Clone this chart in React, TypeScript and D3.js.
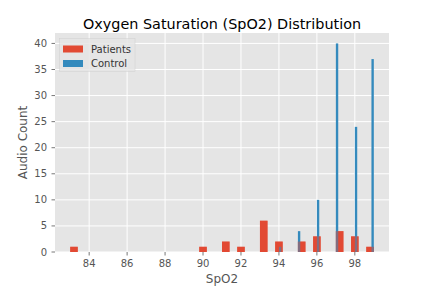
import React from "react";
import * as d3 from "d3";

// histogram source values (SpO2 reading -> number of recordings)
const patientSpo2 = [83, 90, 91, 92, 93, 94, 95, 96, 97, 98, 99];
const patientCounts = [1, 1, 2, 1, 6, 2, 2, 3, 4, 3, 1];
const controlSpo2 = [94, 95, 96, 97, 98, 99];
const controlCounts = [1, 4, 10, 40, 24, 37];
const xTicks = [84, 86, 88, 90, 92, 94, 96, 98];
const yTicks = [0, 5, 10, 15, 20, 25, 30, 35, 40];
const binCount = 40;

const W = 432;
const H = 288;
const M = { left: 55, right: 389, top: 33, bottom: 252 };
const FONT = "'DejaVu Sans', sans-serif";

interface Bar {
  x0: number;
  x1: number;
  count: number;
}

// matplotlib-like binning: n equal bins over [min, max] of the series
function toBins(values: number[], counts: number[], n: number): Bar[] {
  const lo = d3.min(values) as number;
  const hi = d3.max(values) as number;
  const w = (hi - lo) / n;
  return values.map((v, i) => {
    const k = Math.min(Math.floor((v - lo) / w + 1e-9), n - 1);
    return { x0: lo + k * w, x1: lo + (k + 1) * w, count: counts[i] };
  });
}

export default function App() {
  const patients = toBins(patientSpo2, patientCounts, binCount);
  const control = toBins(controlSpo2, controlCounts, binCount);

  const allMin = Math.min(d3.min(patientSpo2) as number, d3.min(controlSpo2) as number);
  const allMax = Math.max(d3.max(patientSpo2) as number, d3.max(controlSpo2) as number);
  const pad = (allMax - allMin) * 0.05;
  const x = d3.scaleLinear().domain([allMin - pad, allMax + pad]).range([M.left, M.right]);
  const yMax = (d3.max([...patientCounts, ...controlCounts]) as number) * 1.05;
  const y = d3.scaleLinear().domain([0, yMax]).range([M.bottom, M.top]);

  const bars = (data: Bar[], color: string, opacity = 1) =>
    data.map((d, i) => (
      <rect
        key={i}
        x={x(d.x0)}
        width={x(d.x1) - x(d.x0)}
        y={y(d.count)}
        height={y(0) - y(d.count)}
        fill={color}
        opacity={opacity}
      />
    ));

  return (
    <svg
      width={W}
      height={H}
      style={{ position: "absolute", left: 0, top: 0, background: "#fff" }}
      fontFamily={FONT}
    >
      <rect x={M.left} y={M.top} width={M.right - M.left} height={M.bottom - M.top} fill="#E5E5E5" />
      {xTicks.map((t) => (
        <line key={"gx" + t} x1={x(t)} x2={x(t)} y1={M.top} y2={M.bottom} stroke="#fff" strokeWidth={1} />
      ))}
      {yTicks.map((t) => (
        <line key={"gy" + t} x1={M.left} x2={M.right} y1={y(t)} y2={y(t)} stroke="#fff" strokeWidth={1} />
      ))}

      {bars(patients, "#E24A33")}
      {bars(control, "#348ABD")}
      {bars(patients, "#E24A33", 0.45)}

      {xTicks.map((t) => (
        <g key={"tx" + t} transform={`translate(${x(t)},${M.bottom})`}>
          <line y1={0} y2={3.5} stroke="#555" strokeWidth={0.8} />
          <text y={15} textAnchor="middle" fontSize={10} fill="#555">
            {t}
          </text>
        </g>
      ))}
      {yTicks.map((t) => (
        <g key={"ty" + t} transform={`translate(${M.left},${y(t)})`}>
          <line x1={0} x2={-3.5} stroke="#555" strokeWidth={0.8} />
          <text x={-8} dy="0.35em" textAnchor="end" fontSize={10} fill="#555">
            {t}
          </text>
        </g>
      ))}

      <text x={(M.left + M.right) / 2} y={29} textAnchor="middle" fontSize={14.4} fill="#000">
        Oxygen Saturation (SpO2) Distribution
      </text>
      <text x={(M.left + M.right) / 2} y={283} textAnchor="middle" fontSize={12} fill="#555">
        SpO2
      </text>
      <text
        transform={`translate(27,${(M.top + M.bottom) / 2}) rotate(-90)`}
        textAnchor="middle"
        fontSize={12}
        fill="#555"
      >
        Audio Count
      </text>

      <g transform="translate(59.5,38.5)">
        <rect width={75.5} height={33} fill="#E5E5E5" stroke="#ccc" strokeWidth={0.5} opacity={0.8} />
        <rect x={3.5} y={7} width={20} height={7} fill="#E24A33" />
        <text x={31.5} y={14} fontSize={10} fill="#333">
          Patients
        </text>
        <rect x={3.5} y={21.5} width={20} height={7} fill="#348ABD" />
        <text x={31.5} y={28.5} fontSize={10} fill="#333">
          Control
        </text>
      </g>
    </svg>
  );
}
